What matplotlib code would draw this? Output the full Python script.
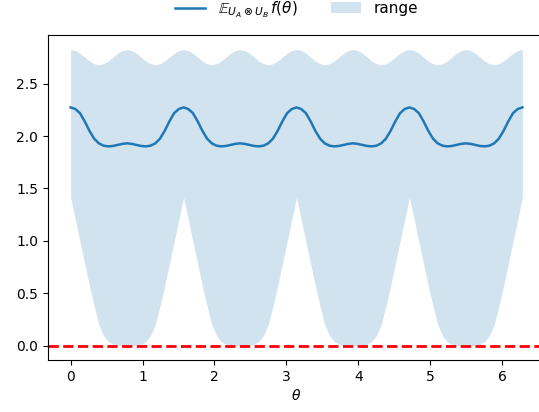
import numpy as np
import matplotlib
matplotlib.use("Agg")
import matplotlib.pyplot as plt

# theta grid: 0 .. 2*pi in steps of pi/48 (97 points)
theta = np.linspace(0, 2 * np.pi, 97)

mean_vals = [
    2.273, 2.258, 2.218, 2.140, 2.050, 1.975, 1.930, 1.908, 1.901, 1.905, 1.915, 1.925,
    1.930, 1.925, 1.915, 1.905, 1.901, 1.908, 1.930, 1.975, 2.050, 2.140, 2.218, 2.258,
    2.273, 2.258, 2.218, 2.140, 2.050, 1.975, 1.930, 1.908, 1.901, 1.905, 1.915, 1.925,
    1.930, 1.925, 1.915, 1.905, 1.901, 1.908, 1.930, 1.975, 2.050, 2.140, 2.218, 2.258,
    2.273, 2.258, 2.218, 2.140, 2.050, 1.975, 1.930, 1.908, 1.901, 1.905, 1.915, 1.925,
    1.930, 1.925, 1.915, 1.905, 1.901, 1.908, 1.930, 1.975, 2.050, 2.140, 2.218, 2.258,
    2.273, 2.258, 2.218, 2.140, 2.050, 1.975, 1.930, 1.908, 1.901, 1.905, 1.915, 1.925,
    1.930, 1.925, 1.915, 1.905, 1.901, 1.908, 1.930, 1.975, 2.050, 2.140, 2.218, 2.258,
    2.273,
]

upper_vals = [
    2.826, 2.816, 2.790, 2.753, 2.716, 2.690, 2.680, 2.690, 2.716, 2.753, 2.790, 2.816,
    2.826, 2.816, 2.790, 2.753, 2.716, 2.690, 2.680, 2.690, 2.716, 2.753, 2.790, 2.816,
    2.826, 2.816, 2.790, 2.753, 2.716, 2.690, 2.680, 2.690, 2.716, 2.753, 2.790, 2.816,
    2.826, 2.816, 2.790, 2.753, 2.716, 2.690, 2.680, 2.690, 2.716, 2.753, 2.790, 2.816,
    2.826, 2.816, 2.790, 2.753, 2.716, 2.690, 2.680, 2.690, 2.716, 2.753, 2.790, 2.816,
    2.826, 2.816, 2.790, 2.753, 2.716, 2.690, 2.680, 2.690, 2.716, 2.753, 2.790, 2.816,
    2.826, 2.816, 2.790, 2.753, 2.716, 2.690, 2.680, 2.690, 2.716, 2.753, 2.790, 2.816,
    2.826, 2.816, 2.790, 2.753, 2.716, 2.690, 2.680, 2.690, 2.716, 2.753, 2.790, 2.816,
    2.826,
]

lower_vals = [
    1.414, 1.203, 0.990, 0.780, 0.570, 0.375, 0.200, 0.095, 0.038, 0.012, 0.003, 0.000,
    0.000, 0.000, 0.003, 0.012, 0.038, 0.095, 0.200, 0.375, 0.570, 0.780, 0.990, 1.203,
    1.414, 1.203, 0.990, 0.780, 0.570, 0.375, 0.200, 0.095, 0.038, 0.012, 0.003, 0.000,
    0.000, 0.000, 0.003, 0.012, 0.038, 0.095, 0.200, 0.375, 0.570, 0.780, 0.990, 1.203,
    1.414, 1.203, 0.990, 0.780, 0.570, 0.375, 0.200, 0.095, 0.038, 0.012, 0.003, 0.000,
    0.000, 0.000, 0.003, 0.012, 0.038, 0.095, 0.200, 0.375, 0.570, 0.780, 0.990, 1.203,
    1.414, 1.203, 0.990, 0.780, 0.570, 0.375, 0.200, 0.095, 0.038, 0.012, 0.003, 0.000,
    0.000, 0.000, 0.003, 0.012, 0.038, 0.095, 0.200, 0.375, 0.570, 0.780, 0.990, 1.203,
    1.414,
]

W, H = 539, 412
fig = plt.figure(figsize=(W / 100, H / 100), dpi=100)
ax = fig.add_axes([48 / W, (H - 360.3) / H, (545 - 48) / W, (360.3 - 34.7) / H])

ax.plot(theta, mean_vals, color="C0", lw=1.8,
        label=r"$\mathbb{E}_{U_A \otimes U_B}\, f(\theta)$")
ax.fill_between(theta, lower_vals, upper_vals, color="C0", alpha=0.2,
                linewidth=0, label="range")
ax.axhline(0, color="red", linestyle="--", lw=2)

ax.set_xlabel(r"$\theta$", labelpad=3)
ax.set_yticks([0.0, 0.5, 1.0, 1.5, 2.0, 2.5])
ax.legend(loc="lower center", bbox_to_anchor=(0.5, 1.004), ncol=2, frameon=False,
          fontsize=11, columnspacing=2.2)

fig.savefig("out.png", dpi=100)
